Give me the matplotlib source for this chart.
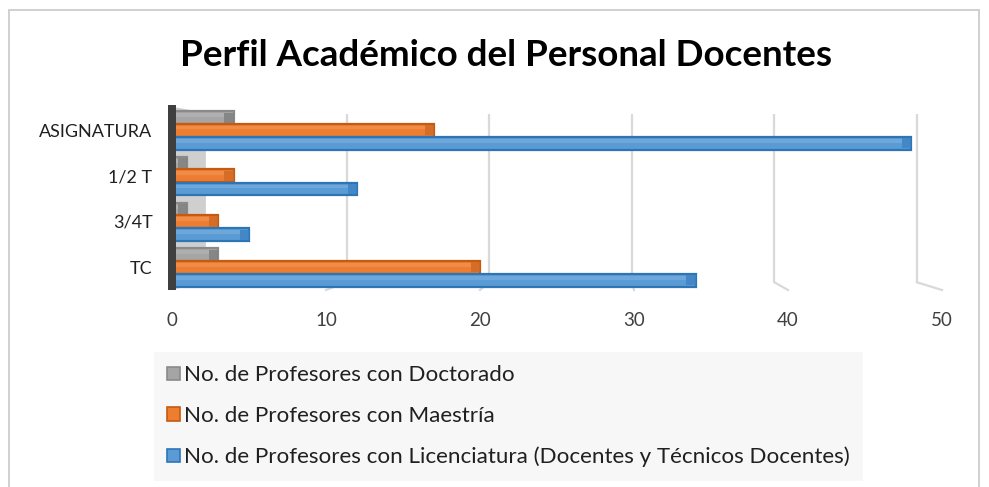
import matplotlib
matplotlib.use("Agg")
import matplotlib.pyplot as plt
from matplotlib.patches import Rectangle, Polygon
import numpy as np

categories = ["TC", "3/4T", "1/2 T", "ASIGNATURA"]
licenciatura = [34, 5, 12, 48]
maestria = [20, 3, 4, 17]
doctorado = [3, 1, 1, 4]
series_names = ["No. de Profesores con Doctorado",
                "No. de Profesores con Maestría",
                "No. de Profesores con Licenciatura (Docentes y Técnicos Docentes)"]
xticks = [0, 10, 20, 30, 40, 50]
title = "Perfil Académico del Personal Docentes"

plt.rcParams['font.family'] = ['Lato', 'DejaVu Sans']

W, H = 989, 487
fig = plt.figure(figsize=(W/100, H/100), dpi=100)
fig.patch.set_facecolor("white")

# outer border
fig.add_artist(Rectangle((9/W, -0.1), (979-9)/W, 1.1 - 10/H, transform=fig.transFigure,
                         fill=False, edgecolor="#c8c8c8", lw=1.2))

fig.text(506/W, 1-56/H, title, ha="center", va="center", fontsize=26.5, fontweight="bold", color="black")

ax = fig.add_axes([172/W, 1-290/H, 770/W, 185/H])
ax.set_xlim(0, 50)
ax.set_ylim(-0.5, 3.55)
for s in ax.spines.values():
    s.set_visible(False)
ax.set_xticks(xticks)
ax.set_xticklabels([str(t) for t in xticks], fontsize=13.5, color="#404040")
ax.set_yticks(range(len(categories)))
ax.set_yticklabels(categories, fontsize=13, color="#202020")
ax.tick_params(axis="x", length=0, pad=16)
ax.tick_params(axis="y", length=0, pad=14)

# back gridlines with perspective foot
ytop, ybot = 3.35, -0.33
for v in xticks[1:]:
    xb = 2.11 + 0.925 * v
    ax.plot([xb, xb], [ytop, ybot], color="#d9d9d9", lw=1.6, zorder=0, solid_capstyle="butt")
    ax.plot([xb, v], [ybot, -0.5], color="#d9d9d9", lw=1.6, zorder=0, clip_on=False)

# wall
ax.add_patch(Polygon([(0.2, 3.5), (2.2, 3.38), (2.2, -0.33), (0.2, -0.48)], closed=True,
                     facecolor="#cfcfcf", edgecolor="none", zorder=0.5))
ax.add_patch(Rectangle((-0.25, -0.5), 0.5, 4.05, facecolor="#3f3f3f", edgecolor="none",
                       zorder=3, clip_on=False))

h = 0.28
y = np.arange(len(categories))
specs = [(doctorado, 0.27, "#a5a5a5", "#8a8a8a", "#7f7f7f"),
         (maestria, 0.0, "#ed7d31", "#c55a11", "#d06a24"),
         (licenciatura, -0.29, "#5b9bd5", "#2e75b6", "#3f83c4")]
for vals, off, fc, ec, cap in specs:
    bars = ax.barh(y + off, vals, height=h, left=0, color=fc, edgecolor=ec, lw=1.6, zorder=2)
    for b in bars:
        bx, by = b.get_x(), b.get_y()
        bw, bh = b.get_width(), b.get_height()
        ax.add_patch(Rectangle((max(bx + bw - 0.6, bx), by + 0.03), min(0.6, bw), bh - 0.06,
                               facecolor=cap, edgecolor="none", zorder=2.5, alpha=0.8))
        ax.add_patch(Rectangle((bx, by + bh * 0.55), bw - 0.6 if bw > 0.6 else bw, bh * 0.3,
                               facecolor="white", edgecolor="none", zorder=2.4, alpha=0.12))

leg_handles = [Rectangle((0, 0), 1, 1, facecolor=fc, edgecolor=ec, lw=1.2)
               for _, _, fc, ec, _ in specs]
leg = fig.legend(leg_handles, series_names, loc="upper left",
                 bbox_to_anchor=(154/W, 1-352/H), fontsize=16.1, frameon=True,
                 facecolor="#f7f7f7", edgecolor="none", framealpha=1,
                 handlelength=0.55, handleheight=0.55, handletextpad=0.2,
                 labelspacing=0.92, borderpad=0.6, borderaxespad=0, fancybox=False)
for t in leg.get_texts():
    t.set_color("#202020")

fig.savefig("out.png", dpi=100)
